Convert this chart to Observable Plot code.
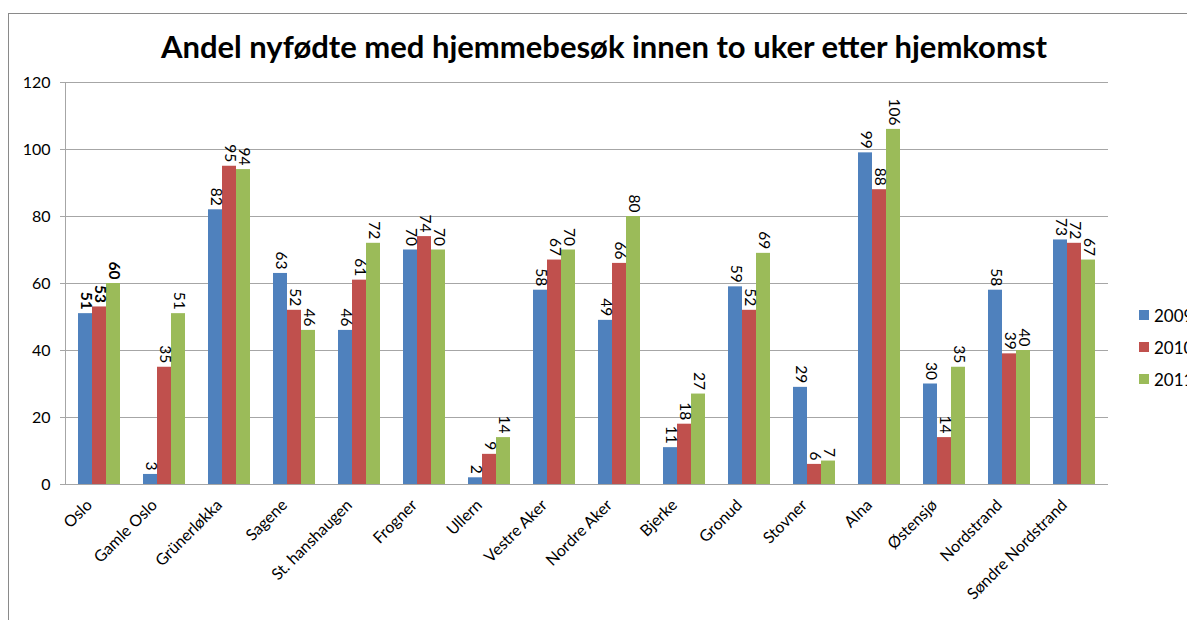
<!DOCTYPE html>
<html><head><meta charset="utf-8">
<script src="https://cdn.jsdelivr.net/npm/d3@7"></script>
<script src="https://cdn.jsdelivr.net/npm/@observablehq/plot@0.6"></script>
<style>
body{margin:0;width:1187px;height:620px;overflow:hidden;position:relative;background:#fff;font-family:Lato,"Open Sans",sans-serif;color:#000}
#frame{position:absolute;left:8px;top:13px;width:1400px;height:800px;border-left:1px solid #8a8a8a;border-top:1px solid #8a8a8a}
#title{position:absolute;left:0;width:1208px;top:30px;text-align:center;font-weight:bold;font-size:31px;line-height:32px;white-space:nowrap}
.layer{position:absolute;left:0;top:0}
#legend{position:absolute;left:1139px;top:304px;font-size:17px}
.li{display:flex;align-items:center;height:22px;margin-bottom:10px;white-space:nowrap}
.sw{width:10px;height:10px;margin-right:5px}
</style>
</head><body>
<div id="frame"></div>
<div id="title">Andel nyfødte med hjemmebesøk innen to uker etter hjemkomst</div>
<div id="bg" class="layer"></div>
<div id="fg" class="layer"></div>
<div id="legend"></div>
<script>
const districts = ["Oslo","Gamle Oslo","Grünerløkka","Sagene","St. hanshaugen","Frogner","Ullern","Vestre Aker","Nordre Aker","Bjerke","Gronud","Stovner","Alna","Østensjø","Nordstrand","Søndre Nordstrand"];
const years = ["2009","2010","2011"];
const v2009 = [51,3,82,63,46,70,2,58,49,11,59,29,99,30,58,73];
const v2010 = [53,35,95,52,61,74,9,67,66,18,52,6,88,14,39,72];
const v2011 = [60,51,94,46,72,70,14,70,80,27,69,7,106,35,40,67];
const yTicks = [0,20,40,60,80,100,120];
const colors = ["#4F81BD","#C0504D","#9BBB59"];
const boldDistricts = ["Oslo"];

const series = [v2009, v2010, v2011];
const data = [];
districts.forEach((d, i) => years.forEach((y, j) => data.push({district: d, year: y, value: series[j][i]})));

const W = 1187, H = 620, ML = 65, MR = 79, MT = 82, MB = 136;

const bg = Plot.plot({
  width: W, height: H, marginLeft: ML, marginRight: MR, marginTop: MT, marginBottom: MB,
  style: {fontFamily: "Lato, sans-serif", fontSize: "16px", background: "transparent", color: "#000"},
  x: {domain: [0, 1], axis: null},
  y: {domain: [0, 120], axis: null},
  marks: [
    Plot.ruleY(yTicks, {stroke: "#a6a6a6", strokeWidth: 1}),
    Plot.ruleY(yTicks, {x1: 0, x2: 0, insetLeft: -5, stroke: "#a6a6a6", strokeWidth: 1}),
    Plot.ruleX([0], {stroke: "#a6a6a6", strokeWidth: 1}),
    Plot.text(yTicks, {y: d => d, x: 0, text: d => String(d), textAnchor: "end", dx: -15, fill: "#000", fontSize: 16})
  ]
});
document.getElementById("bg").appendChild(bg);

const fg = Plot.plot({
  width: W, height: H, marginLeft: ML, marginRight: MR, marginTop: MT, marginBottom: MB,
  style: {fontFamily: "Lato, sans-serif", fontSize: "16px", background: "transparent", color: "#000", overflow: "visible"},
  fx: {domain: districts, paddingInner: 0.32, paddingOuter: 0.16, label: null},
  x: {domain: years, padding: 0, axis: null},
  y: {domain: [0, 120], axis: null},
  color: {domain: years, range: colors},
  marks: [
    Plot.axisFx({anchor: "bottom", tickRotate: -45, tickSize: 0, tickPadding: 8, dx: -10, dy: 10, fontSize: 16, label: null, fill: "#000"}),
    Plot.barY(data, {fx: "district", x: "year", y: "value", fill: "year"}),
    Plot.text(data.filter(d => !boldDistricts.includes(d.district)), {fx: "district", x: "year", y: "value", text: d => String(d.value), rotate: 90, textAnchor: "end", lineAnchor: "middle", dy: -4, fill: "#000", fontSize: 15.5}),
    Plot.text(data.filter(d => boldDistricts.includes(d.district)), {fx: "district", x: "year", y: "value", text: d => String(d.value), rotate: 90, textAnchor: "end", lineAnchor: "middle", dy: -4, fill: "#000", fontSize: 15.5, fontWeight: "bold"})
  ]
});
document.getElementById("fg").appendChild(fg);

const legend = document.getElementById("legend");
years.forEach((y, j) => {
  const row = document.createElement("div");
  row.className = "li";
  row.innerHTML = `<span class="sw" style="background:${colors[j]}"></span><span>${y}</span>`;
  legend.appendChild(row);
});
</script>
</body></html>
